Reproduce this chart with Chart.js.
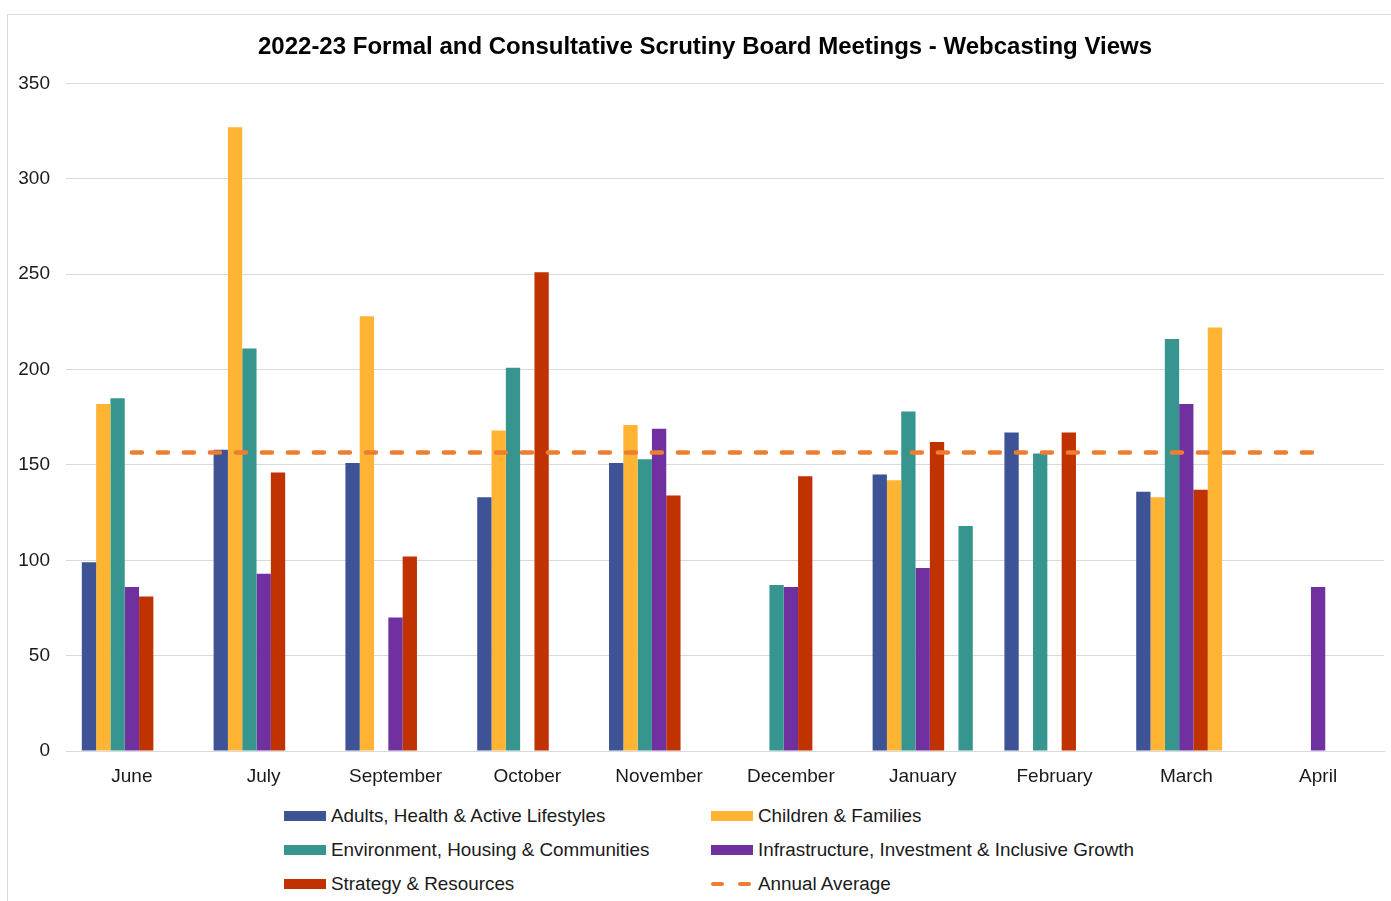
<!DOCTYPE html>
<html>
<head>
<meta charset="utf-8">
<script src="https://cdn.jsdelivr.net/npm/chart.js@4.4.0/dist/chart.umd.min.js"></script>
<style>
  body { margin: 0; background: #fff; font-family: "Liberation Sans", Arial, sans-serif; }
  #frame { position: absolute; left: 7px; top: 14px; width: 1400px; height: 900px;
           border-left: 1px solid #d9d9d9; border-top: 1px solid #d9d9d9; }
  #wrap { position: absolute; left: 0; top: 0; width: 1391px; height: 800px; }
  #legend { position: absolute; left: 0; top: 0; }
  .item { position: absolute; font-size: 18.85px; color: #1a1a1a; white-space: nowrap; line-height: 22px; }
  .sw { position: absolute; left: 0; top: 6px; width: 42px; height: 10px; }
  .txt { position: absolute; left: 47px; top: 0; }
</style>
</head>
<body>
<div id="frame"></div>
<div id="wrap"><canvas id="chart"></canvas></div>
<div id="legend"></div>
<script>
const months = ['June', 'July', 'September', 'October', 'November', 'December', 'January', 'February', 'March', 'April'];

const adults         = [99, 158, 151, 133, 151, null, 145, 167, 136, null];
const children       = [182, 327, 228, 168, 171, null, 142, null, 133, null];
const environment    = [185, 211, null, 201, 153, 87, 178, 156, 216, null];
const infrastructure = [86, 93, 70, null, 169, 86, 96, null, 182, 86];
const strategy       = [81, 146, 102, 251, 134, 144, 162, 167, 137, null];
// second meetings in the same month (not listed in the legend)
const children2      = [null, null, null, null, null, null, null, null, 222, null];
const environment2   = [null, null, null, null, null, null, 118, null, null, null];
const annualAverage  = [156.5, 156.5, 156.5, 156.5, 156.5, 156.5, 156.5, 156.5, 156.5, 156.5];

const yTicks = [0, 50, 100, 150, 200, 250, 300, 350];

const BLUE = '#3E5396', ORANGE = '#FFB433', TEAL = '#36968F', PURPLE = '#7030A0', RED = '#C03300', AVG = '#ED7D31';

function bar(label, data, color) {
  return { type: 'bar', label: label, data: data, backgroundColor: color, borderWidth: 0, order: 1,
           categoryPercentage: 0.76, barPercentage: 1 };
}

const datasets = [
  bar('Adults, Health & Active Lifestyles', adults, BLUE),
  bar('Children & Families', children, ORANGE),
  bar('Environment, Housing & Communities', environment, TEAL),
  bar('Infrastructure, Investment & Inclusive Growth', infrastructure, PURPLE),
  bar('Strategy & Resources', strategy, RED),
  bar('Children & Families (2)', children2, ORANGE),
  bar('Environment, Housing & Communities (2)', environment2, TEAL),
  {
    type: 'line', label: 'Annual Average', data: annualAverage, order: 0,
    borderColor: AVG, borderWidth: 4.5, borderDash: [10, 16], borderCapStyle: 'round',
    pointRadius: 0, fill: false
  }
];

const font = { family: '"Liberation Sans", Arial, sans-serif', size: 19 };

// y labels sit left of the padded area, so widen the clip box of the y scale
const widenY = {
  id: 'widenY',
  afterLayout(chart) { chart.scales.y.left = 8; }
};

new Chart(document.getElementById('chart').getContext('2d'), {
  data: { labels: months, datasets: datasets },
  plugins: [widenY],
  options: {
    responsive: true,
    maintainAspectRatio: false,
    animation: false,
    layout: { padding: { left: 26, right: 7, top: 0, bottom: 0 } },
    plugins: {
      legend: { display: false },
      tooltip: { enabled: false },
      title: {
        display: true,
        text: '2022-23 Formal and Consultative Scrutiny Board Meetings - Webcasting Views',
        color: '#000',
        font: { family: '"Liberation Sans", Arial, sans-serif', size: 24, weight: 'bold' },
        padding: { top: 32.5, bottom: 22.2 }
      }
    },
    scales: {
      x: {
        grid: { display: false, drawTicks: false },
        border: { display: true, color: '#d9d9d9', width: 1 },
        ticks: { color: '#1a1a1a', font: font, padding: 14, maxRotation: 0 },
        afterFit: function(s) { s.height = 49; }
      },
      y: {
        min: 0, max: 350,
        afterBuildTicks: function(s) { s.ticks = yTicks.map(v => ({ value: v })); },
        grid: { color: '#d9d9d9', lineWidth: 1, drawTicks: false },
        border: { display: false },
        ticks: { color: '#1a1a1a', font: font, padding: 16 },
        afterFit: function(s) { s.width = 40; }
      }
    }
  }
});

// legend in two columns, as in the original
const legendItems = [
  { label: datasets[0].label, color: BLUE, x: 284, y: 805 },
  { label: datasets[1].label, color: ORANGE, x: 711, y: 805 },
  { label: datasets[2].label, color: TEAL, x: 284, y: 839 },
  { label: datasets[3].label, color: PURPLE, x: 711, y: 839 },
  { label: datasets[4].label, color: RED, x: 284, y: 873 },
  { label: datasets[7].label, color: AVG, x: 711, y: 873, dashed: true }
];
const legend = document.getElementById('legend');
legendItems.forEach(it => {
  const d = document.createElement('div');
  d.className = 'item';
  d.style.left = it.x + 'px';
  d.style.top = it.y + 'px';
  let sw;
  if (it.dashed) {
    sw = '<div class="sw" style="top:9px;height:4px;background:none">' +
         '<div style="position:absolute;left:0;width:13px;height:4px;border-radius:2px;background:' + it.color + '"></div>' +
         '<div style="position:absolute;left:27px;width:13px;height:4px;border-radius:2px;background:' + it.color + '"></div></div>';
  } else {
    sw = '<div class="sw" style="background:' + it.color + '"></div>';
  }
  d.innerHTML = sw + '<span class="txt">' + it.label + '</span>';
  legend.appendChild(d);
});
</script>
</body>
</html>
